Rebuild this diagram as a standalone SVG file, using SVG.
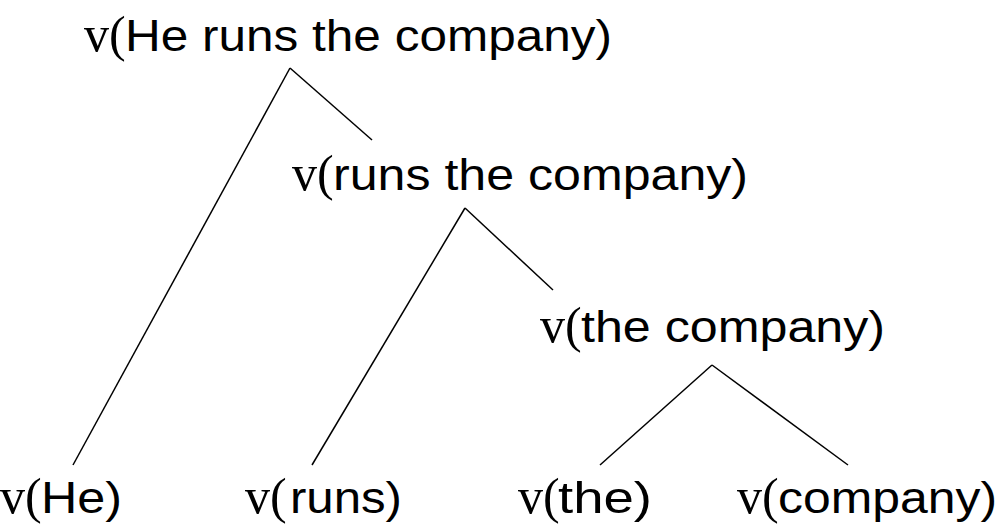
<svg xmlns="http://www.w3.org/2000/svg" width="1000" height="530" viewBox="0 0 1000 530">
<style>
.s{font-family:"Liberation Serif",serif;font-size:50px;fill:#000}
.t{font-family:"Liberation Sans",sans-serif;font-size:45px;fill:#000}
.e{stroke:#000;stroke-width:1.5;fill:none}
</style>
<rect width="1000" height="530" fill="#fff"/>
<g id="edges">
<line class="e" x1="290" y1="68" x2="73" y2="465"/>
<line class="e" x1="290" y1="68" x2="372" y2="140"/>
<line class="e" x1="465" y1="208" x2="312" y2="465"/>
<line class="e" x1="465" y1="208" x2="553" y2="290"/>
<line class="e" x1="712" y1="365" x2="600" y2="465"/>
<line class="e" x1="712" y1="365" x2="848" y2="465"/>
</g>
<g id="n-root"><text class="s" x="84" y="51">v(</text><text class="t" x="125" y="51" textLength="487" lengthAdjust="spacingAndGlyphs">He runs the company)</text></g>
<g id="n-vp"><text class="s" x="292" y="190">v(</text><text class="t" x="333" y="190" textLength="415" lengthAdjust="spacingAndGlyphs">runs the company)</text></g>
<g id="n-np"><text class="s" x="540" y="342">v(</text><text class="t" x="581" y="342" textLength="304" lengthAdjust="spacingAndGlyphs">the company)</text></g>
<g id="n-he"><text class="s" x="0" y="513">v(</text><text class="t" x="41" y="513" textLength="81" lengthAdjust="spacingAndGlyphs">He)</text></g>
<g id="n-runs"><text class="s" x="245" y="513">v(</text><text class="t" x="290" y="513" textLength="112" lengthAdjust="spacingAndGlyphs">runs)</text></g>
<g id="n-the"><text class="s" x="518" y="513">v(</text><text class="t" x="558" y="513" textLength="94" lengthAdjust="spacingAndGlyphs">the)</text></g>
<g id="n-company"><text class="s" x="737" y="513">v(</text><text class="t" x="778" y="513" textLength="219" lengthAdjust="spacingAndGlyphs">company)</text></g>
</svg>
